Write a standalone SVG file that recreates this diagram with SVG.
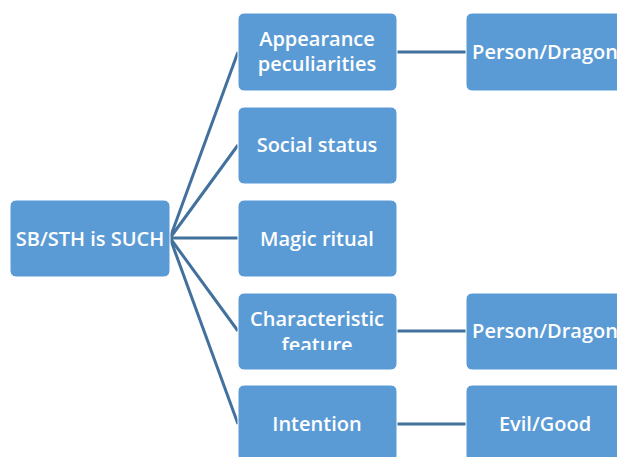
<svg xmlns="http://www.w3.org/2000/svg" width="617" height="457" viewBox="0 0 617 457">
<style>
.box{fill:#5B9BD5;stroke:#ffffff;stroke-width:1}
.t{font-family:"Open Sans","Liberation Sans",sans-serif;font-size:20px;font-weight:600;fill:#ffffff;text-anchor:middle}
.c{stroke:#41719C;stroke-width:3;fill:none}
</style>
<defs>
<clipPath id="clipChar"><rect x="238" y="293" width="159" height="57"/></clipPath>
</defs>
<rect width="617" height="457" fill="#ffffff"/>
<g id="connectors">
<line class="c" x1="170" y1="238" x2="238" y2="52"/>
<line class="c" x1="170" y1="238" x2="238" y2="145"/>
<line class="c" x1="170" y1="238" x2="238" y2="238"/>
<line class="c" x1="170" y1="238" x2="238" y2="331"/>
<line class="c" x1="170" y1="238" x2="238" y2="424"/>
<line class="c" x1="397" y1="52" x2="466" y2="52"/>
<line class="c" x1="397" y1="331" x2="466" y2="331"/>
<line class="c" x1="397" y1="424" x2="466" y2="424"/>
</g>
<g id="root"><rect class="box" x="10" y="200" width="160" height="77" rx="6"/><text class="t" x="90" y="246">SB/STH is SUCH</text></g>
<g id="appearance"><rect class="box" x="238" y="13" width="159" height="78" rx="6"/><text class="t" x="317" y="46">Appearance</text><text class="t" x="317" y="71">peculiarities</text></g>
<g id="social"><rect class="box" x="238" y="107" width="159" height="77" rx="6"/><text class="t" x="317" y="152">Social status</text></g>
<g id="magic"><rect class="box" x="238" y="200" width="159" height="77" rx="6"/><text class="t" x="317" y="246">Magic ritual</text></g>
<g id="characteristic"><rect class="box" x="238" y="293" width="159" height="77" rx="6"/><g clip-path="url(#clipChar)"><text class="t" x="317" y="326">Characteristic</text><text class="t" x="317" y="352">feature</text></g></g>
<g id="intention"><rect class="box" x="238" y="385" width="159" height="77" rx="6"/><text class="t" x="317" y="431">Intention</text></g>
<g id="person1"><rect class="box" x="466" y="13" width="159" height="78" rx="6"/><text class="t" x="545" y="59">Person/Dragon</text></g>
<g id="person2"><rect class="box" x="466" y="293" width="159" height="77" rx="6"/><text class="t" x="545" y="338">Person/Dragon</text></g>
<g id="evilgood"><rect class="box" x="466" y="385" width="159" height="77" rx="6"/><text class="t" x="545" y="431">Evil/Good</text></g>
</svg>
